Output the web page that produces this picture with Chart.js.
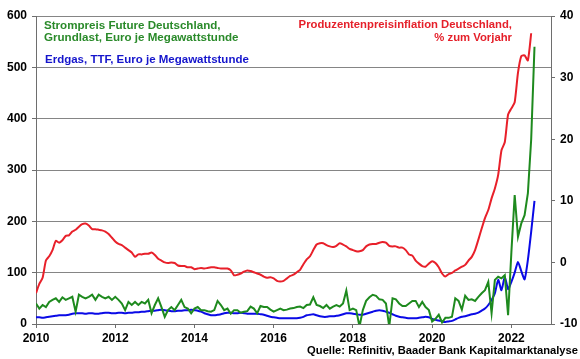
<!DOCTYPE html>
<html>
<head>
<meta charset="utf-8">
<script src="https://cdn.jsdelivr.net/npm/chart.js@4.4.0/dist/chart.umd.min.js"></script>
<style>
  html, body { margin: 0; padding: 0; background: #fff; }
  #wrap { position: relative; width: 580px; height: 359px; }
  .note { position: absolute; font-family: "Liberation Sans", Arial, sans-serif; font-weight: bold; white-space: nowrap; }
  .green { color: #2a8a2a; left: 44px; top: 19px; font-size: 11.6px; line-height: 12.4px; }
  .blue { color: #1515cc; left: 45px; top: 52.5px; font-size: 11.5px; line-height: 12.4px; }
  .red { color: #e5202a; right: 68px; top: 18px; font-size: 11.3px; line-height: 13.2px; text-align: right; }
  .source { color: #000; right: 2px; top: 345px; font-size: 11.2px; line-height: 11.2px; }
</style>
</head>
<body>
<div id="wrap">
  <canvas id="chart" width="580" height="359"></canvas>
  <div class="note green">Strompreis Future Deutschland,<br>Grundlast, Euro je Megawattstunde</div>
  <div class="note blue">Erdgas, TTF, Euro je Megawattstunde</div>
  <div class="note red">Produzentenpreisinflation Deutschland,<br>% zum Vorjahr</div>
  <div class="note source">Quelle: Refinitiv, Baader Bank Kapitalmarktanalyse</div>
</div>
<script>
// monthly values, first month = Jan 2010
const startYear = 2010;

// power future, EUR/MWh (left axis), Jan 2010 - Aug 2022
const powerPrice = [
  40, 30, 37, 33, 43, 47, 50, 43, 52, 47, 50, 53,
  24, 57, 53, 50, 53, 57, 47, 57, 53, 50, 53, 47,
  53, 47, 40, 27, 43, 37, 43, 37, 43, 40, 47, 21,
  37, 50, 33, 14, 27, 33, 27, 37, 47, 33, 30, 21,
  30, 33, 27, 27, 25, 24, 27, 45, 37, 27, 30, 20,
  27, 27, 22, 24, 25, 34, 30, 21, 35, 33, 33, 28,
  24, 27, 30, 27, 28, 30, 31, 33, 34, 31, 37, 38,
  52, 37, 35, 31, 37, 30, 34, 37, 34, 40, 65, 27,
  30, 27, -5, 27, 45, 52, 57, 55, 48, 47, 40, -5,
  50, 48, 40, 35, 35, 40, 45, 45, 33, 43, 33, 27,
  5, 10, 18, 3, 12, 12, 14, 50, 45, 28, 55, 47,
  48, 45, 53, 60, 66, 82, 21, 86, 92, 89, 95, 17,
  140, 251, 170, 196, 212, 255, 360, 540
];

// TTF gas, EUR/MWh (left axis), Jan 2010 - Aug 2022
const gasPrice = [
  13, 13, 12, 13, 14, 15, 16, 17, 17, 17, 18, 20,
  21, 21, 21, 20, 21, 21, 20, 20, 21, 22, 22, 21,
  21, 22, 22, 21, 22, 22, 23, 23, 24, 24, 25, 26,
  26, 27, 28, 27, 26, 25, 25, 26, 26, 27, 27, 28,
  27, 26, 24, 21, 19, 17, 17, 18, 19, 21, 22, 22,
  21, 21, 22, 21, 20, 20, 20, 20, 19, 18, 16, 14,
  13, 12, 11, 11, 11, 11, 11, 11, 12, 14, 17, 18,
  19, 17, 15, 14, 14, 15, 15, 16, 17, 19, 21, 21,
  20, 19, 18, 18, 20, 22, 24, 26, 27, 26, 24, 22,
  19, 16, 14, 13, 12, 11, 11, 11, 12, 13, 14, 13,
  10, 8, 7, 5, 4, 5, 6, 9, 12, 14, 15, 17,
  19, 20, 22, 26, 30, 37, 47, 60, 86, 66, 92, 68,
  82, 100, 121, 103, 87, 125, 180, 240
];

// producer price inflation, % yoy (right axis), Jan 2010 - Jul 2022
const ppiInflation = [
  -5.0, -3.5, -2.5, 0.3, 1.0, 2.0, 3.5, 3.2, 3.6, 4.3, 4.4, 5.0,
  5.3, 5.8, 6.2, 6.3, 6.0, 5.4, 5.4, 5.3, 5.2, 5.0, 4.6, 4.0,
  3.4, 3.0, 2.8, 2.4, 2.0, 1.6, 0.9, 1.3, 1.3, 1.4, 1.4, 1.6,
  1.2, 0.6, 0.3, 0.0, -0.1, 0.0, -0.1, -0.5, -0.6, -0.6, -0.8, -0.8,
  -1.1, -1.0, -0.9, -1.0, -0.9, -0.8, -0.8, -0.9, -1.0, -1.0, -1.0, -1.3,
  -2.1, -2.0, -1.8, -1.5, -1.3, -1.4, -1.6, -1.8, -2.0, -2.3, -2.5, -2.4,
  -2.6, -3.0, -3.1, -3.0, -2.6, -2.2, -2.0, -1.6, -1.2, -0.3, 0.5, 1.0,
  2.0, 2.9, 3.1, 3.1, 2.8, 2.6, 2.5, 2.7, 3.1, 2.9, 2.6, 2.2,
  2.0, 1.8, 1.8, 2.0, 2.6, 2.9, 3.0, 3.0, 3.2, 3.3, 3.2, 2.7,
  2.6, 2.6, 2.4, 2.4, 2.0, 1.3, 1.1, 0.3, -0.2, -0.6, -0.7, -0.2,
  0.2, -0.1, -0.8, -1.8, -2.3, -1.9, -1.7, -1.3, -1.0, -0.7, -0.4, 0.3,
  0.9, 2.0, 3.7, 5.5, 7.2, 8.5, 10.4, 12.0, 14.2, 18.2, 19.5, 24.0,
  25.0, 26.0, 30.8, 33.5, 33.6, 32.8, 37.2
];

// axis ranges / tick labels
const xRange = [2010, 2023];
const xTickStep = 2;
const leftRange = [0, 600];
const leftStep = 100;
const rightRange = [-10, 40];
const rightStep = 10;

function toPoints(values) {
  return values.map((v, i) => ({ x: startYear + i / 12, y: v }));
}

const tickFont = { family: '"Liberation Sans", Arial, sans-serif', size: 12, weight: 'bold' };
const axisGray = '#6e6e6e';

new Chart(document.getElementById('chart'), {
  type: 'line',
  data: {
    datasets: [
      {
        label: 'Produzentenpreisinflation Deutschland',
        data: toPoints(ppiInflation),
        yAxisID: 'y2',
        borderColor: '#e8202a',
        borderWidth: 2,
        pointRadius: 0,
        tension: 0.2,
        order: 1
      },
      {
        label: 'Strompreis Future Deutschland',
        data: toPoints(powerPrice),
        yAxisID: 'y',
        borderColor: '#1e8a1e',
        borderWidth: 2,
        pointRadius: 0,
        tension: 0,
        order: 2
      },
      {
        label: 'Erdgas, TTF',
        data: toPoints(gasPrice),
        yAxisID: 'y',
        borderColor: '#0a0ae6',
        borderWidth: 2,
        pointRadius: 0,
        tension: 0.2,
        order: 3
      }
    ]
  },
  options: {
    responsive: false,
    animation: false,
    devicePixelRatio: 1,
    layout: { padding: { top: 16, left: 0, right: 0, bottom: 0 } },
    plugins: { legend: { display: false }, tooltip: { enabled: false } },
    scales: {
      x: {
        type: 'linear',
        min: xRange[0],
        max: xRange[1],
        afterFit: s => { s.height = 35; },
        ticks: {
          stepSize: xTickStep,
          includeBounds: false,
          autoSkip: false,
          maxRotation: 0,
          padding: 3,
          color: '#000',
          font: tickFont,
          callback: v => String(v)
        },
        grid: { drawOnChartArea: false, drawTicks: true, tickLength: 4, tickColor: axisGray },
        border: { display: true, color: axisGray, width: 1 }
      },
      y: {
        position: 'left',
        min: leftRange[0],
        max: leftRange[1],
        afterFit: s => { s.width = 36; },
        ticks: { stepSize: leftStep, padding: 5, color: '#000', font: tickFont },
        grid: { color: '#858585', lineWidth: 1, drawTicks: true, tickLength: 4, tickColor: axisGray },
        border: { display: true, color: axisGray, width: 1 }
      },
      y2: {
        position: 'right',
        min: rightRange[0],
        max: rightRange[1],
        afterFit: s => { s.width = 29; },
        ticks: { stepSize: rightStep, padding: 5, color: '#000', font: tickFont },
        grid: { drawOnChartArea: false, drawTicks: true, tickLength: 4, tickColor: axisGray },
        border: { display: true, color: axisGray, width: 1 }
      }
    }
  }
});
</script>
</body>
</html>
